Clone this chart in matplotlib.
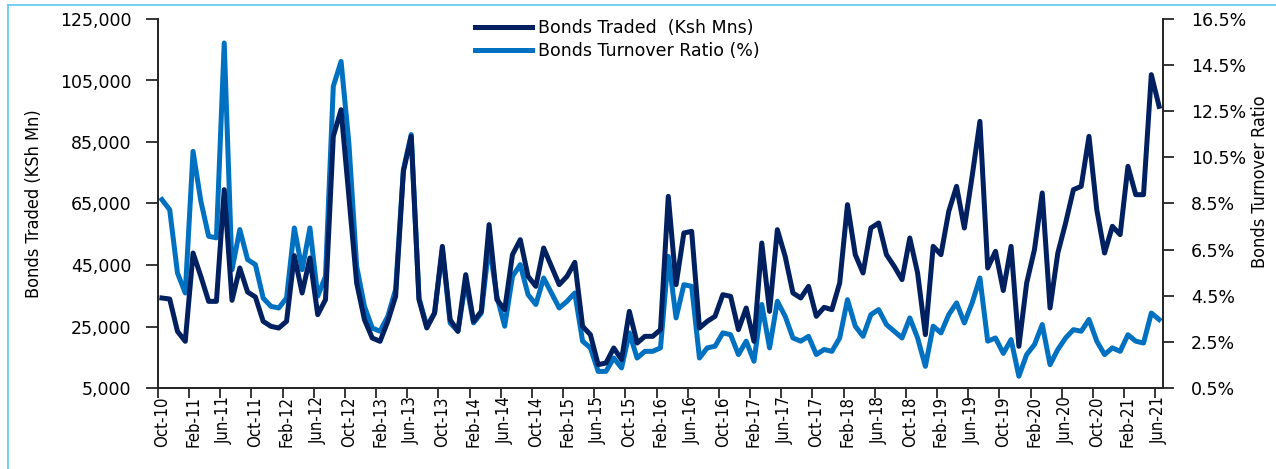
"""Bonds traded vs bonds turnover ratio, Oct-10 to Jun-21 (monthly)."""

import matplotlib.pyplot as plt
from matplotlib.lines import Line2D
from matplotlib.ticker import FuncFormatter, FixedLocator

# Monthly values, Oct-2010 .. Jun-2021 (129 months)
bonds_traded = [
    34270, 33940, 23430, 20180, 48900, 41310, 33180, 33180, 69500, 33510,
    44030, 36220, 34600, 26680, 25050, 24510, 26680, 48040, 35900, 47280,
    28850, 33730, 86840, 95500, 67330, 39150, 27220, 21260, 20180, 26680,
    34810, 75460, 86840, 33730, 24510, 29390, 51070, 27220, 23430, 41860,
    26680, 29930, 58120, 33730, 30470, 48360, 53240, 41310, 38060, 50530,
    44570, 38610, 41310, 45870, 25050, 22350, 12590, 13130, 18010, 14210,
    29930, 19630, 21800, 21800, 23970, 67330, 38610, 55410, 55950, 24510,
    26680, 28310, 35350, 34810, 23970, 31020, 20180, 52150, 29930, 56490,
    47820, 35900, 34270, 38060, 28310, 31230, 30470, 39150, 64620, 48360,
    42400, 57030, 58660, 48360, 44570, 40230, 53780, 42400, 22350, 51070,
    48360, 62450, 70580, 57030, 73830, 91720, 44030, 49450, 36700, 51070,
    18550, 39150, 49990, 68420, 31020, 48900, 58660, 69500, 70580, 86840,
    62990, 48900, 57580, 54870, 77090, 67870, 67870, 106900, 96600,
]

turnover_ratio = [
    8.67, 8.23, 5.49, 4.62, 10.76, 8.60, 7.08, 7.01, 15.46, 5.63,
    7.37, 6.07, 5.85, 4.40, 4.04, 3.97, 4.40, 7.44, 5.63, 7.44,
    4.48, 5.34, 13.58, 14.66, 11.12, 5.78, 4.04, 3.10, 2.96, 3.61,
    4.77, 9.97, 11.49, 4.40, 3.18, 3.75, 6.50, 3.32, 2.96, 5.13,
    3.32, 3.75, 6.72, 4.48, 3.18, 5.34, 5.85, 4.55, 4.12, 5.27,
    4.62, 3.97, 4.26, 4.62, 2.53, 2.24, 1.22, 1.22, 1.80, 1.37,
    2.89, 1.80, 2.09, 2.09, 2.24, 6.21, 3.54, 4.98, 4.91, 1.80,
    2.24, 2.31, 2.89, 2.81, 1.95, 2.53, 1.66, 4.12, 2.24, 4.26,
    3.61, 2.67, 2.53, 2.74, 1.95, 2.17, 2.09, 2.67, 4.33, 3.18,
    2.74, 3.68, 3.90, 3.25, 2.96, 2.67, 3.54, 2.67, 1.44, 3.18,
    2.89, 3.68, 4.19, 3.32, 4.19, 5.27, 2.53, 2.67, 2.00, 2.60,
    1.01, 1.95, 2.38, 3.25, 1.51, 2.17, 2.67, 3.03, 2.96, 3.47,
    2.53, 1.95, 2.24, 2.09, 2.81, 2.53, 2.45, 3.75, 3.47,
]

left_ticks = [5000, 25000, 45000, 65000, 85000, 105000, 125000]
right_ticks = [0.5, 2.5, 4.5, 6.5, 8.5, 10.5, 12.5, 14.5, 16.5]

month_names = ["Jan", "Feb", "Mar", "Apr", "May", "Jun",
               "Jul", "Aug", "Sep", "Oct", "Nov", "Dec"]
months = []
for k in range(len(bonds_traded)):
    m = 9 + k  # start at Oct-2010
    months.append(f"{month_names[m % 12]}-{(2010 + m // 12) % 100:02d}")

DARK = "#002060"
LIGHT = "#0070C0"
NARROW = dict(family="DejaVu Sans", stretch="condensed")

fig = plt.figure(figsize=(12.76, 4.69), dpi=100)
ax = fig.add_axes([158 / 1276, 1 - 388 / 469, (1163 - 158) / 1276, (388 - 19) / 469])
ax2 = ax.twinx()

x = list(range(len(bonds_traded)))
ax.plot(x, bonds_traded, color=DARK, linewidth=3.6, solid_joinstyle="round", zorder=3)
ax2.plot(x, turnover_ratio, color=LIGHT, linewidth=3.6, solid_joinstyle="round", zorder=2)
ax.set_zorder(ax2.get_zorder() + 1)
ax.patch.set_visible(False)

ax.set_xlim(-0.5, len(bonds_traded) - 0.5)
ax.set_ylim(left_ticks[0], left_ticks[-1])
ax2.set_ylim(right_ticks[0], right_ticks[-1])

ax.yaxis.set_major_locator(FixedLocator(left_ticks))
ax.yaxis.set_major_formatter(FuncFormatter(lambda v, p: f"{int(v):,}"))
ax2.yaxis.set_major_locator(FixedLocator(right_ticks))
ax2.yaxis.set_major_formatter(FuncFormatter(lambda v, p: f"{v:.1f}%"))

# category boundaries get the tick marks, labels sit on the months
label_idx = list(range(0, len(months), 4))
ax.xaxis.set_major_locator(FixedLocator([i - 0.5 for i in label_idx]))
ax.xaxis.set_major_formatter(FuncFormatter(lambda v, p: ""))
ax.xaxis.set_minor_locator(FixedLocator(label_idx))
ax.set_xticklabels([months[i] for i in label_idx], minor=True)
ax.tick_params(axis="x", which="minor", length=0, pad=6, labelrotation=90)
ax.tick_params(axis="x", which="major", length=7, width=1.3, color="#262626")
for lbl in ax.get_xticklabels(minor=True):
    lbl.set(**NARROW)
    lbl.set_fontsize(12)

ax.tick_params(axis="y", length=9, width=1.3, color="#262626", pad=10, labelsize=12.5)
ax2.tick_params(axis="y", length=8, width=1.3, color="#262626", pad=12, labelsize=12.5)

for a in (ax, ax2):
    a.spines["top"].set_visible(False)
    for s in ("left", "right", "bottom"):
        a.spines[s].set_color("#262626")
        a.spines[s].set_linewidth(1.3)

ax.set_ylabel("Bonds Traded (KSh Mn)", fontsize=13, **NARROW)
ax.yaxis.set_label_coords(-0.114, 0.5)
ax2.set_ylabel("Bonds Turnover Ratio", fontsize=13, rotation=90, **NARROW)
ax2.yaxis.set_label_coords(1.088, 0.56)

handles = [Line2D([], [], color=DARK, linewidth=3.6),
           Line2D([], [], color=LIGHT, linewidth=3.6)]
fig.legend(handles, ["Bonds Traded  (Ksh Mns)", "Bonds Turnover Ratio (%)"],
           loc="upper left", bbox_to_anchor=(475 / 1276, 1 - 19 / 469),
           frameon=False, fontsize=12.5, handlelength=3.3, handletextpad=0.3,
           borderpad=0, borderaxespad=0, labelspacing=0.3)

# light blue frame round the picture
fig.add_artist(Line2D([8 / 1276, 1], [1 - 5 / 469, 1 - 5 / 469],
                      transform=fig.transFigure, color="#5BC8EE", linewidth=1.2))
fig.add_artist(Line2D([8 / 1276, 8 / 1276], [0, 1 - 5 / 469],
                      transform=fig.transFigure, color="#5BC8EE", linewidth=1.2))

fig.savefig("out.png", dpi=100, facecolor="white")
